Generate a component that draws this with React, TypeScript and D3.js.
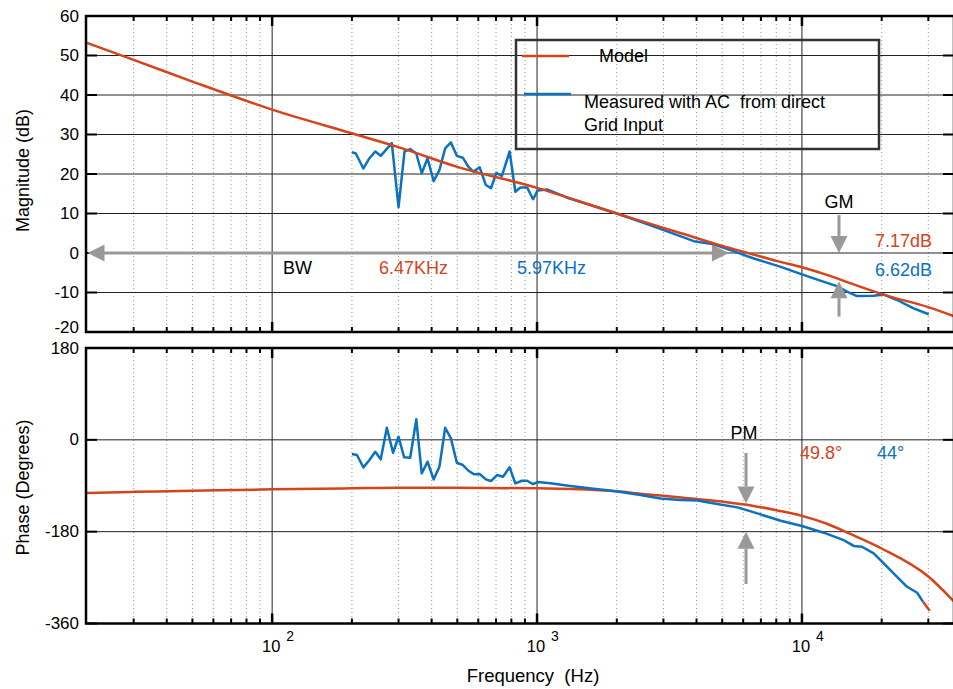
import React from "react";
import * as d3 from "d3";

// model (red) transfer function
const modelFreq = [20, 30, 50, 100, 200, 300, 500, 1000, 2000, 2500, 3500, 5000, 6500, 8000, 10000, 12500, 15000, 20000, 30000, 37500];
const modelMag = [53.2, 48.9, 43.4, 36.3, 30.3, 26.8, 21.8, 16.5, 10.0, 8.0, 5.0, 1.8, -0.3, -2.0, -3.6, -5.6, -7.5, -10.4, -13.7, -16.0];
const modelPhase = [-104, -102, -100, -97, -95, -94, -94, -95, -101, -106, -113, -121, -129, -138, -149, -165, -183, -213, -268, -317];

// measured (blue) magnitude
const measMagFreq = [200, 207, 221, 233, 245, 257, 283, 300, 316, 332, 350, 367, 386, 407, 428, 450, 473, 498, 525, 551, 576, 607, 641, 670, 702, 737, 788, 828, 865, 917, 966, 1005, 1091, 1300, 1600, 2000, 2460, 3010, 3910, 4650, 5540, 6590, 8320, 10000, 11730, 13550, 14790, 16140, 18660, 20360, 22860, 26400, 30100];
const measMag = [25.5, 25.2, 21.4, 24.0, 25.7, 24.6, 27.8, 11.6, 25.7, 26.3, 25.2, 20.2, 24.0, 18.2, 21.0, 26.5, 28.0, 24.6, 24.1, 21.8, 20.6, 21.7, 17.2, 16.4, 20.3, 19.5, 25.7, 15.5, 16.6, 16.6, 13.6, 15.8, 16.1, 14.0, 12.1, 10.0, 7.9, 5.8, 3.0, 2.2, 0.4, -1.4, -3.5, -5.4, -7.0, -8.4, -9.8, -10.9, -10.8, -10.5, -11.9, -14.0, -15.5];

// measured (blue) phase
const measPhFreq = [200, 209, 221, 233, 245, 257, 271, 286, 300, 315, 332, 350, 367, 386, 407, 428, 450, 473, 498, 525, 551, 579, 607, 641, 670, 706, 744, 788, 828, 878, 917, 966, 1005, 1123, 1336, 1637, 1948, 2458, 2926, 3482, 4026, 4792, 5704, 6788, 8315, 10000, 12080, 14370, 15680, 16860, 18660, 20360, 22860, 24950, 27220, 28660, 30370];
const measPhase = [-27.8, -29.8, -53.9, -39.6, -23.3, -38.2, 23.7, -25.3, 6.1, -34.3, -35.0, 40.2, -65.7, -42.9, -77.5, -52.7, 23.7, 2.9, -44.9, -49.4, -60.6, -67.6, -67.1, -77.5, -80.8, -69.0, -72.3, -53.9, -85.3, -80.2, -80.2, -86.7, -82.7, -85.3, -90.6, -95.9, -100.4, -108.2, -114.8, -118, -119, -125.9, -132.4, -144.1, -158.6, -169, -182, -196.5, -208, -209.6, -222.5, -242, -268.4, -288, -299.8, -317.5, -335];

const magTicks = [-20, -10, 0, 10, 20, 30, 40, 50, 60];
const phaseTicks = [-360, -180, 0, 180];
const decades = [100, 1000, 10000];
const decadeExp = ["2", "3", "4"];

// annotations: bandwidth / gain margin / phase margin
const bwFreq = [20, 5300];
const gmFreq = 13800;
const gmModel = -7.17;
const pmFreq = 6150;
const pmModel = -125;

const RED = "#d5441a";
const BLUE = "#0a72c0";
const GRAY = "#999";
const FONT = "'Liberation Sans', Arial, Helvetica, sans-serif";

const L = 87, R = 954;

function Arrow({ x1, y1, x2, y2 }) {
  const head = 17, half = 8.5;
  const a = Math.atan2(y2 - y1, x2 - x1);
  const bx = x2 - head * Math.cos(a), by = y2 - head * Math.sin(a);
  const px = -Math.sin(a) * half, py = Math.cos(a) * half;
  return (
    <g>
      <line x1={x1} y1={y1} x2={bx} y2={by} stroke={GRAY} strokeWidth={3} />
      <polygon points={`${x2},${y2} ${bx + px},${by + py} ${bx - px},${by - py}`} fill={GRAY} />
    </g>
  );
}

function Panel({ x, y, ticks, grid, minor, id, children }) {
  const [y0, y1] = y.range();
  return (
    <g>
      <defs>
        <clipPath id={id}>
          <rect x={L} y={y1} width={R - L} height={y0 - y1} />
        </clipPath>
      </defs>
      {minor.map((f) => (
        <line key={f} x1={x(f)} x2={x(f)} y1={y1} y2={y0} stroke="#8a8a8a" strokeWidth={0.9} strokeDasharray="1 3" />
      ))}
      {decades.map((f) => (
        <line key={f} x1={x(f)} x2={x(f)} y1={y1} y2={y0} stroke="#222" strokeWidth={1} />
      ))}
      {grid.map((v) => (
        <line key={v} x1={L} x2={R} y1={y(v)} y2={y(v)} stroke="#222" strokeWidth={1} />
      ))}
      {ticks.map((v, i) => (
        <g key={v}>
          <line x1={L} x2={L + 10} y1={y(v)} y2={y(v)} stroke="#000" strokeWidth={2} />
          <line x1={R - 1} x2={R - 11} y1={y(v)} y2={y(v)} stroke="#000" strokeWidth={2} />
          <text x={79} y={y(v) - (i === 0 && id === "clipMag" ? 5 : 0)} textAnchor="end" dominantBaseline="central" fontSize={17} fontFamily={FONT}>
            {v}
          </text>
        </g>
      ))}
      {minor.map((f) => (
        <g key={"t" + f}>
          <line x1={x(f)} x2={x(f)} y1={y1} y2={y1 + 5} stroke="#000" strokeWidth={2} />
          <line x1={x(f)} x2={x(f)} y1={y0} y2={y0 - 5} stroke="#000" strokeWidth={2} />
        </g>
      ))}
      {decades.map((f) => (
        <g key={"T" + f}>
          <line x1={x(f)} x2={x(f)} y1={y1} y2={y1 + 10} stroke="#000" strokeWidth={2.5} />
          <line x1={x(f)} x2={x(f)} y1={y0} y2={y0 - 10} stroke="#000" strokeWidth={2.5} />
        </g>
      ))}
      <g clipPath={`url(#${id})`}>{children}</g>
      <rect x={L - 1} y={y1} width={R - L + 1} height={y0 - y1} fill="none" stroke="#000" strokeWidth={2.5} />
    </g>
  );
}

export default function App() {
  const x = d3.scaleLog().domain([20, 37500]).range([L, R]);
  const yMag = d3.scaleLinear().domain([-20, 60]).range([332, 16]);
  const yPh = d3.scaleLinear().domain([-360, 180]).range([623.5, 348]);

  const minor: number[] = [];
  [10, 100, 1000, 10000].forEach((d) => {
    for (let k = 2; k <= 9; k++) {
      const f = k * d;
      if (f > 20 && f < 37500) minor.push(f);
    }
  });

  const mkLine = (fs: number[], vs: number[], sy, curve = d3.curveLinear) =>
    d3
      .line<number>()
      .x((_, i) => x(fs[i]))
      .y((v) => sy(v))
      .curve(curve)(vs) as string;

  const modelMagPath = mkLine(modelFreq, modelMag, yMag, d3.curveMonotoneX);
  const modelPhPath = mkLine(modelFreq, modelPhase, yPh, d3.curveMonotoneX);
  const measMagPath = mkLine(measMagFreq, measMag, yMag);
  const nPh = measPhase.length;
  const measPhPath = mkLine(measPhFreq.slice(0, nPh - 1), measPhase.slice(0, nPh - 1), yPh);
  const measPhTail = mkLine(measPhFreq.slice(nPh - 2), measPhase.slice(nPh - 2), yPh);

  return (
    <svg width={953} height={689} style={{ position: "absolute", left: 0, top: 0, background: "#fff" }} fontFamily={FONT}>
      <Panel x={x} y={yMag} ticks={magTicks} grid={[-10, 0, 10, 20, 30, 40, 50]} minor={minor} id="clipMag">
        <Arrow x1={x(bwFreq[0]) + 10} y1={yMag(0)} x2={x(bwFreq[0]) + 0.5} y2={yMag(0)} />
        <Arrow x1={x(bwFreq[0]) + 10} y1={yMag(0)} x2={x(bwFreq[1])} y2={yMag(0)} />
        <path d={measMagPath} fill="none" stroke={BLUE} strokeWidth={2.5} strokeLinejoin="round" />
        <path d={modelMagPath} fill="none" stroke={RED} strokeWidth={2.5} />
        <Arrow x1={x(gmFreq)} y1={yMag(9.6)} x2={x(gmFreq)} y2={yMag(0)} />
        <Arrow x1={x(gmFreq)} y1={yMag(-16.1)} x2={x(gmFreq)} y2={yMag(gmModel)} />
      </Panel>
      <Panel x={x} y={yPh} ticks={phaseTicks} grid={[-180, 0]} minor={minor} id="clipPh">
        <path d={modelPhPath} fill="none" stroke={RED} strokeWidth={2.5} />
        <path d={measPhPath} fill="none" stroke={BLUE} strokeWidth={2.5} strokeLinejoin="round" />
        <path d={measPhTail} fill="none" stroke={RED} strokeWidth={2.5} />
        <Arrow x1={x(pmFreq)} y1={yPh(-25.7)} x2={x(pmFreq)} y2={yPh(pmModel)} />
        <Arrow x1={x(pmFreq)} y1={yPh(-282.7)} x2={x(pmFreq)} y2={yPh(-180)} />
      </Panel>

      {/* legend */}
      <rect x={516} y={40} width={363} height={109} fill="none" stroke="#333" strokeWidth={2.5} />
      <line x1={522} x2={569} y1={56} y2={56} stroke={RED} strokeWidth={2.5} />
      <text x={599} y={56} dominantBaseline="central" fontSize={18}>Model</text>
      <line x1={524} x2={571} y1={94} y2={94} stroke={BLUE} strokeWidth={2.5} />
      <text x={584} y={102} dominantBaseline="central" fontSize={18} style={{ whiteSpace: "pre" }}>
        Measured with AC  from direct
      </text>
      <text x={584} y={125} dominantBaseline="central" fontSize={18}>Grid Input</text>

      {/* annotations */}
      <text x={283} y={273.5} fontSize={18}>BW</text>
      <text x={379} y={273.5} fontSize={18} fill={RED}>6.47KHz</text>
      <text x={517} y={273.5} fontSize={18} fill={BLUE}>5.97KHz</text>
      <text x={x(gmFreq)} y={202} textAnchor="middle" dominantBaseline="central" fontSize={18}>GM</text>
      <text x={932} y={241} textAnchor="end" dominantBaseline="central" fontSize={18} fill={RED}>7.17dB</text>
      <text x={932} y={269.5} textAnchor="end" dominantBaseline="central" fontSize={18} fill={BLUE}>6.62dB</text>
      <text x={x(pmFreq) - 2} y={433} textAnchor="middle" dominantBaseline="central" fontSize={18}>PM</text>
      <text x={800} y={453} dominantBaseline="central" fontSize={18} fill={RED}>49.8°</text>
      <text x={877} y={453} dominantBaseline="central" fontSize={18} fill={BLUE}>44°</text>

      {/* x tick labels */}
      {decades.map((f, i) => (
        <g key={f}>
          <text x={x(f) - 1} y={652} textAnchor="middle" fontSize={16.5}>10</text>
          <text x={x(f) + 14} y={641} fontSize={14}>{decadeExp[i]}</text>
        </g>
      ))}

      {/* axis titles */}
      <text x={533} y={681.5} textAnchor="middle" fontSize={18.5} style={{ whiteSpace: "pre" }}>
        Frequency  (Hz)
      </text>
      <text transform={`translate(23,170.5) rotate(-90)`} textAnchor="middle" dominantBaseline="central" fontSize={18}>
        Magnitude (dB)
      </text>
      <text transform={`translate(23,487.5) rotate(-90)`} textAnchor="middle" dominantBaseline="central" fontSize={18}>
        Phase (Degrees)
      </text>
    </svg>
  );
}
